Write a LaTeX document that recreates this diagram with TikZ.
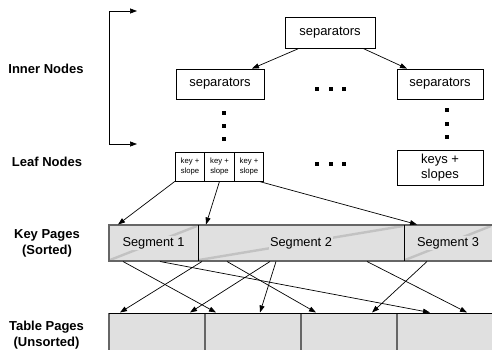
\documentclass[tikz,border=0pt]{standalone}
\usepackage{fontspec}
\setmainfont{Liberation Sans}
\usetikzlibrary{arrows.meta}
\definecolor{pagefill}{HTML}{E0E0E0}
\definecolor{diagcol}{HTML}{C2C2C2}
\definecolor{edgegray}{HTML}{666666}
\begin{document}
\begin{tikzpicture}[x=1pt,y=-1pt,
  box/.style={draw=black, line width=0.8pt, minimum width=88pt, minimum height=30pt, inner sep=0pt, font=\fontsize{13}{15}\selectfont},
  leafbox/.style={draw=black, line width=0.8pt, minimum width=29.5pt, minimum height=29pt, inner sep=0pt, align=center, font=\fontsize{7.7}{10}\selectfont},
  lab/.style={font=\bfseries\fontsize{13}{16}\selectfont, align=center},
  arr/.style={-{Triangle[length=7pt,width=5pt]}, line width=0.7pt},
  dotsq/.style={fill=black, minimum size=4pt, inner sep=0pt},
  segtext/.style={fill=pagefill, inner sep=1.5pt, font=\fontsize{12.8}{15}\selectfont},
]
\useasboundingbox (0,0) rectangle (492,350);

% labels
\node[lab] (linner) at (46,69) {Inner Nodes};
\node[lab] (lleaf) at (47,162) {Leaf Nodes};
\node[lab] (lkey) at (47,243) {Key Pages\\(Sorted)};
\node[lab] (ltab) at (46.5,335) {Table Pages\\(Unsorted)};

% bracket
\coordinate (bt) at (137,11);
\coordinate (bc1) at (109,11);
\coordinate (bc2) at (109,144);
\coordinate (bb) at (137,144);
\draw[{Triangle[length=7pt,width=5pt]}-{Triangle[length=7pt,width=5pt]}, line width=0.7pt] (bt) -- (bc1) -- (bc2) -- (bb);

% inner nodes
\node[box, minimum width=90pt, minimum height=31pt] (top) at (330,32.5) {separators};
\node[box] (left) at (220,84) {separators};
\node[box, minimum width=86pt] (right) at (440,84) {separators};
\draw[arr] ([xshift=-31pt]top.south) -- ([xshift=32pt]left.north);
\draw[arr] ([xshift=33pt]top.south) -- ([xshift=-33pt]right.north);

% dots
\foreach \x [count=\i] in {317,330.5,344}{
  \node[dotsq] (hd\i) at (\x,89) {};
  \node[dotsq] (hl\i) at (\x,164) {};
}
\foreach \y [count=\i] in {113,126,139}{
  \node[dotsq] (vl\i) at (224,\y) {};
}
\foreach \y [count=\i] in {110,124,137}{
  \node[dotsq] (vr\i) at (447,\y) {};
}

% leaf nodes
\node[leafbox] (l1) at (190,166.5) {key +\\slope};
\node[leafbox] (l2) at (219.5,166.5) {key +\\slope};
\node[leafbox] (l3) at (249,166.5) {key +\\slope};
\node[box, minimum width=86pt, minimum height=35pt, align=center] (lr) at (440,168) {keys +\\slopes};

% key pages
\fill[pagefill] (109,225) rectangle (492,261);
\draw[diagcol, line width=2.4pt] (110,260) -- (197,226);
\draw[diagcol, line width=2.4pt] (199,260) -- (403,226);
\draw[diagcol, line width=2.4pt] (405,260) -- (491,226);
\draw[edgegray, line width=1.2pt] (492,225) -- (109,225) -- (109,261) -- (492,261);
\draw[black, line width=0.8pt] (198,225) -- (198,261);
\draw[black, line width=0.8pt] (404,225) -- (404,261);
\node[segtext] (s1) at (153.5,243) {Segment 1};
\node[segtext] (s2) at (301,243) {Segment 2};
\node[segtext] (s3) at (448,243) {Segment 3};

% table pages
\fill[pagefill] (109,313) rectangle (492,351);
\draw[edgegray, line width=1.3pt] (109,313) -- (109,351);
\foreach \x [count=\i] in {205,301,397}{
  \draw[edgegray, line width=1.3pt] (\x,313) -- (\x,351);
}
\draw[black, line width=0.9pt] (109,313) -- (492,313);

% leaf -> key page arrows
\coordinate (kp1) at (118,224.5);
\coordinate (kp2) at (206,224.5);
\coordinate (kp3) at (417,224.5);
\draw[arr] (l1.south west) -- (kp1);
\draw[arr] (l2.south) -- (kp2);
\draw[arr] ([xshift=10pt]l3.south) -- (kp3);

% key page -> table page arrows
\coordinate (ka) at (123,261.5);
\coordinate (kb) at (160,261.5);
\coordinate (kc) at (202,261.5);
\coordinate (kd) at (227,261.5);
\coordinate (ke) at (270,261.5);
\coordinate (kf) at (276,261.5);
\coordinate (kg) at (367,261.5);
\coordinate (kh) at (427,261.5);
\coordinate (ta) at (216,312.5);
\coordinate (tb) at (430,312.5);
\coordinate (tc) at (120,312.5);
\coordinate (td) at (316,312.5);
\coordinate (te) at (190,312.5);
\coordinate (tf) at (260,312.5);
\coordinate (tg) at (467,312.5);
\coordinate (th) at (372,312.5);
\foreach \s/\t in {ka/ta,kb/tb,kc/tc,kd/td,ke/te,kf/tf,kg/tg,kh/th}{
  \draw[arr] (\s) -- (\t);
}
\end{tikzpicture}
\end{document}
